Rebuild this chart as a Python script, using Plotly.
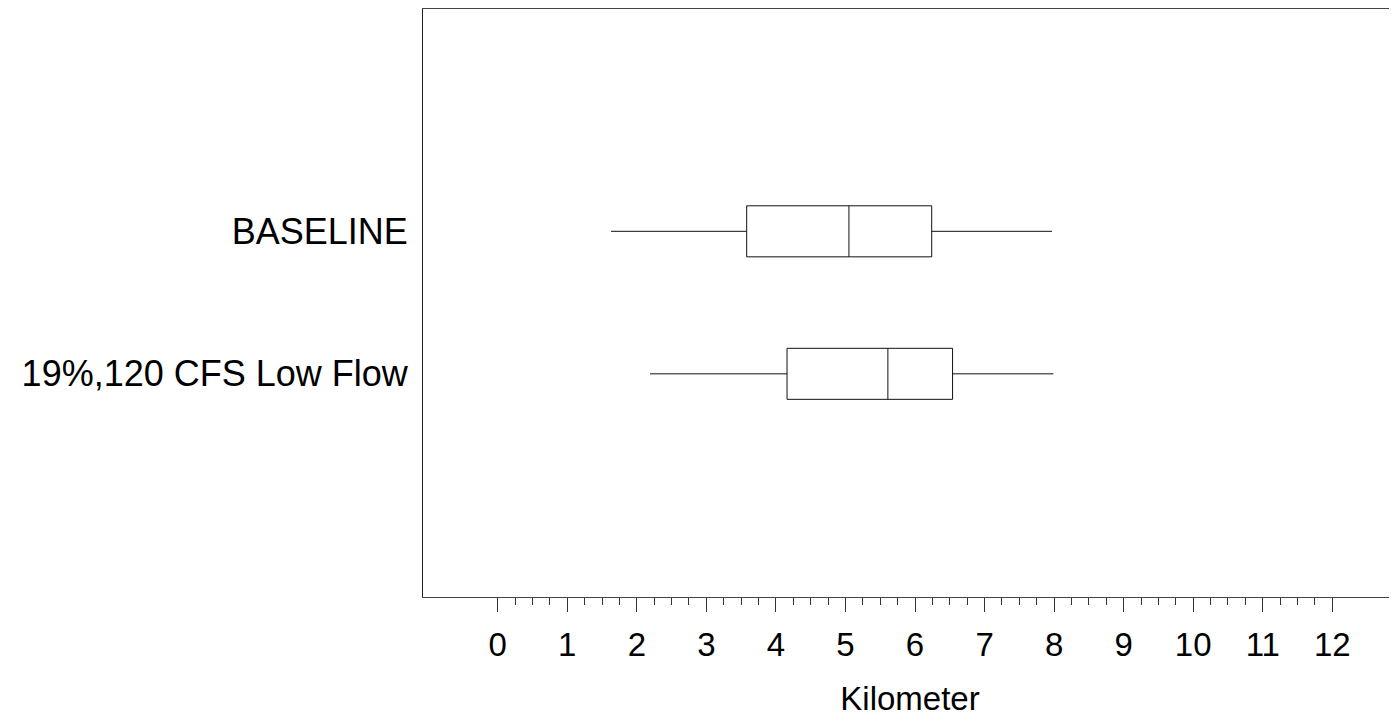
import plotly.graph_objects as go

categories = ["BASELINE", "19%,120 CFS Low Flow"]
lower_whisker = [1.63, 2.19]
q1_values = [3.58, 4.16]
median_values = [5.05, 5.61]
q3_values = [6.24, 6.54]
upper_whisker = [7.97, 7.99]

major_ticks = list(range(0, 13))
tick_labels = [str(v) for v in major_ticks]
minor_ticks = [i / 4 for i in range(0, 49) if i % 4 != 0]

FONT = "Liberation Sans, Arial, sans-serif"

fig = go.Figure()
for i, cat in enumerate(categories):
    fig.add_trace(go.Box(
        y=[cat],
        q1=[q1_values[i]],
        median=[median_values[i]],
        q3=[q3_values[i]],
        lowerfence=[lower_whisker[i]],
        upperfence=[upper_whisker[i]],
        orientation="h",
        width=0.358,
        whiskerwidth=0,
        boxpoints=False,
        line=dict(color="#111111", width=1),
        fillcolor="white",
        showlegend=False,
    ))

fig.update_layout(
    width=1389,
    height=709,
    margin=dict(l=415, r=0, t=1, b=120),
    paper_bgcolor="white",
    plot_bgcolor="white",
    font=dict(family=FONT, color="black"),
    xaxis=dict(
        range=[-1.074, 12.93],
        automargin=False,
        tickmode="array",
        tickvals=major_ticks,
        ticktext=tick_labels,
        ticks="outside",
        ticklen=14,
        tickwidth=1,
        tickcolor="#333333",
        tickfont=dict(size=33, family=FONT, color="black"),
        ticklabelstandoff=4,
        minor=dict(tickmode="array", tickvals=minor_ticks, ticks="outside",
                   ticklen=7, tickwidth=1, tickcolor="#333333"),
        showgrid=False,
        zeroline=False,
        showline=True,
        linecolor="#444444",
        linewidth=1,
        mirror=True,
        title=dict(text="Kilometer", font=dict(size=33, family=FONT, color="black"), standoff=38),
    ),
    yaxis=dict(
        type="category",
        categoryorder="array",
        categoryarray=categories[::-1],
        range=[-1.566, 2.560],
        automargin=False,
        showgrid=False,
        zeroline=False,
        showline=True,
        linecolor="#222222",
        linewidth=1,
        mirror=False,
        ticks="",
        ticklabelstandoff=7,
        tickfont=dict(size=36, family=FONT, color="black"),
    ),
)

fig.write_html("out.html")
